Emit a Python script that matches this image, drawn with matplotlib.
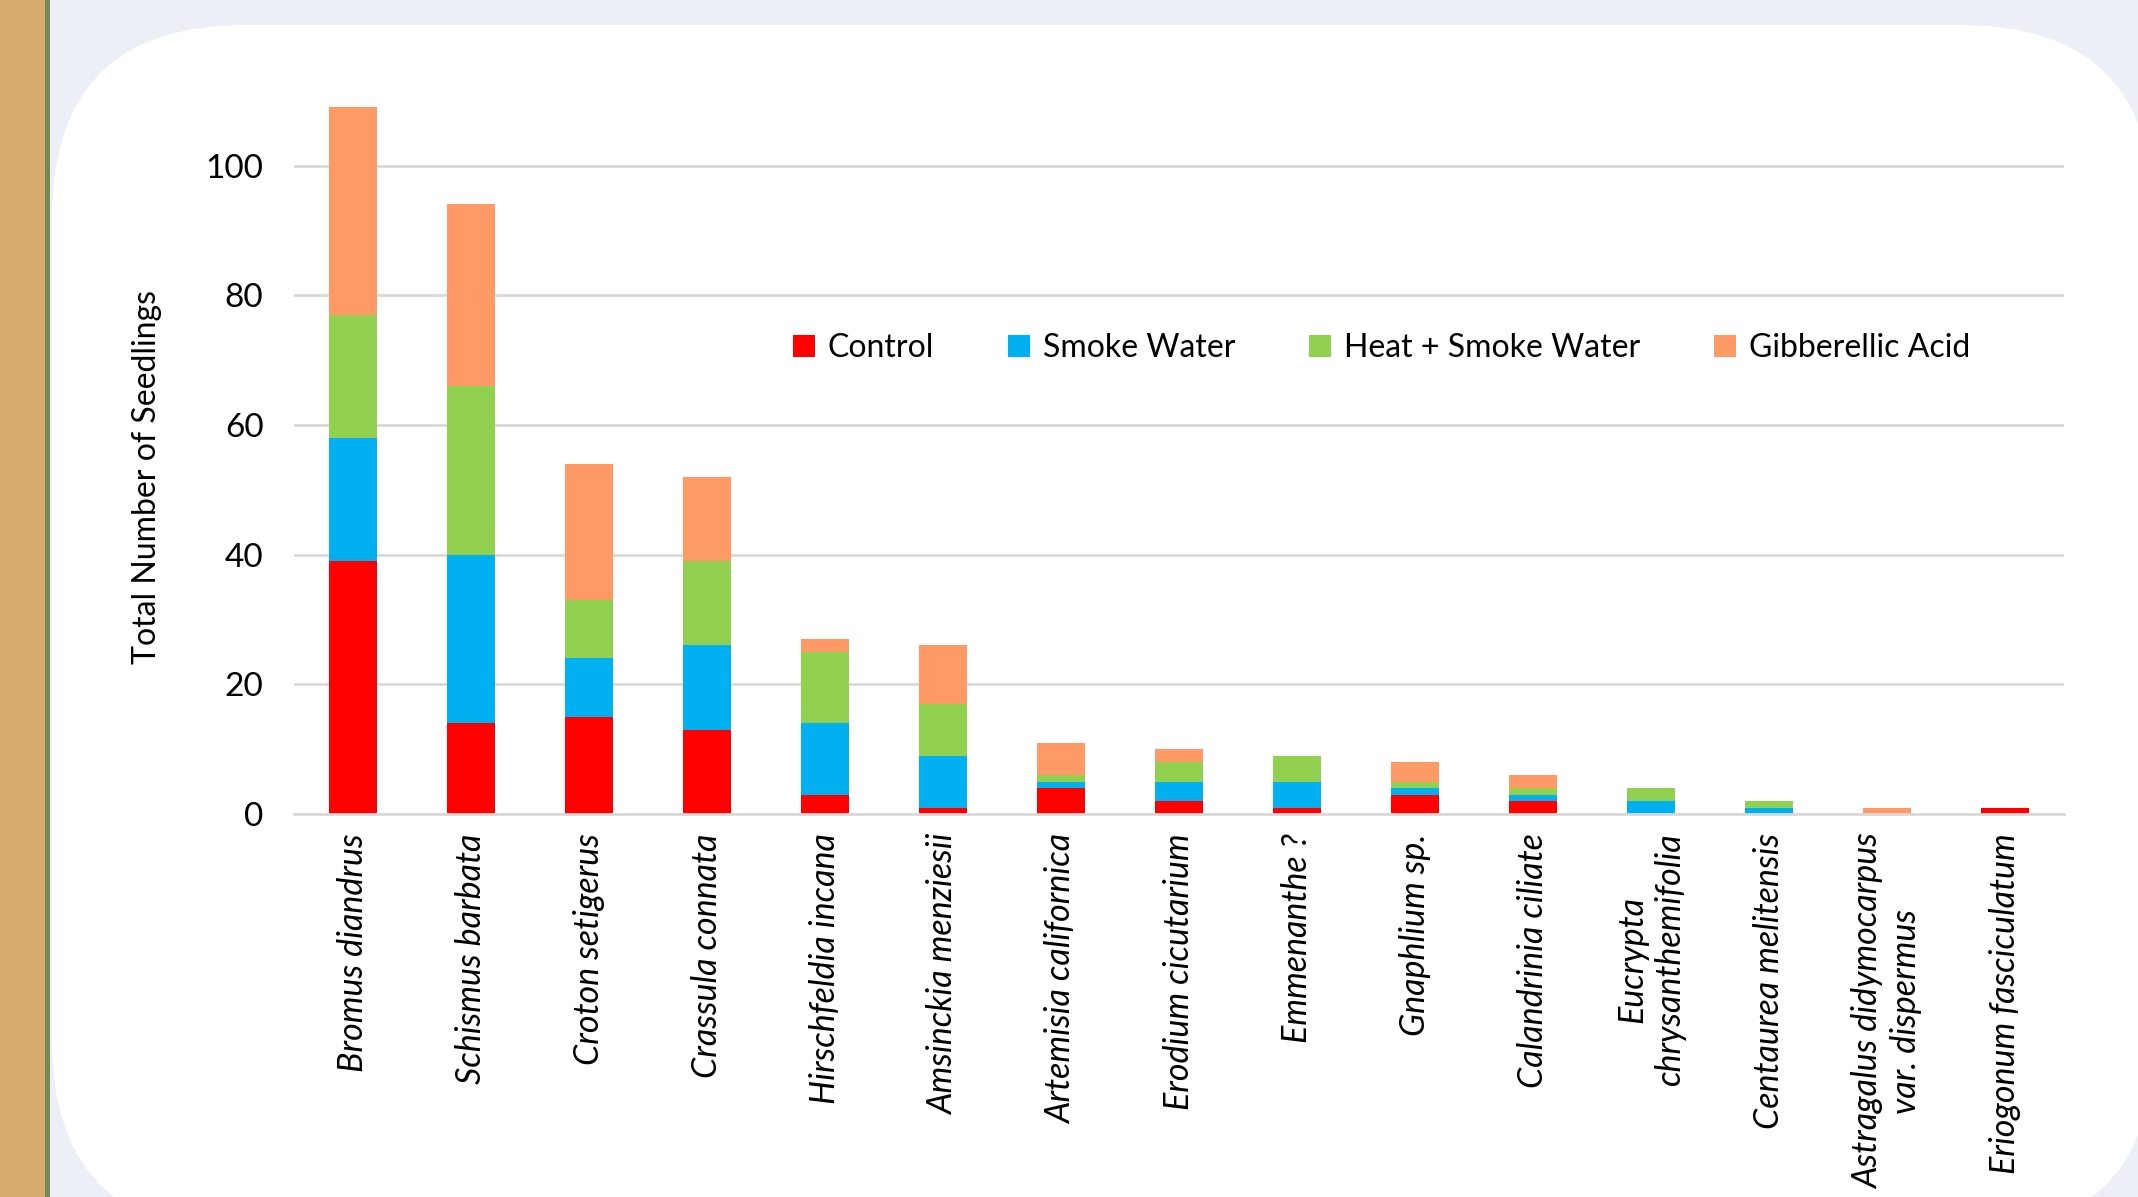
import matplotlib
matplotlib.use("Agg")
import matplotlib.pyplot as plt
import numpy as np
from matplotlib.patches import FancyBboxPatch, Rectangle, Patch

plt.rcParams['font.family'] = ['Lato', 'DejaVu Sans']

species = [
    "Bromus diandrus", "Schismus barbata", "Croton setigerus", "Crassula connata",
    "Hirschfeldia incana", "Amsinckia menziesii", "Artemisia californica",
    "Erodium cicutarium", "Emmenanthe ?", "Gnaphlium sp.", "Calandrinia ciliate",
    "Eucrypta\nchrysanthemifolia", "Centaurea melitensis",
    "Astragalus didymocarpus\nvar. dispermus", "Eriogonum fasciculatum",
]
control = [39, 14, 15, 13, 3, 1, 4, 2, 1, 3, 2, 0, 0, 0, 1]
smoke_water = [19, 26, 9, 13, 11, 8, 1, 3, 4, 1, 1, 2, 1, 0, 0]
heat_smoke = [19, 26, 9, 13, 11, 8, 1, 3, 4, 1, 1, 2, 1, 0, 0]
gibberellic = [32, 28, 21, 13, 2, 9, 5, 2, 0, 3, 2, 0, 0, 1, 0]

series_names = ["Control", "Smoke Water", "Heat + Smoke Water", "Gibberellic Acid"]
colors = ["#FF0000", "#00B0F0", "#92D050", "#FF9966"]

W, H = 2138, 1197
fig = plt.figure(figsize=(W / 100, H / 100), dpi=100)
fig.patch.set_facecolor("#ECEFF6")

# slide decoration: tan strip, green edge line, white rounded panel
bg = fig.add_axes([0, 0, 1, 1])
bg.set_xlim(0, W)
bg.set_ylim(0, H)
bg.axis("off")
bg.add_patch(Rectangle((0, 0), 45, H, color="#D6AB6E", lw=0))
bg.add_patch(Rectangle((45, 0), 5, H, color="#758A55", lw=0))
bg.add_patch(FancyBboxPatch((52 + 193, -36 + 193), 2154 - 52 - 386, 1172 + 36 - 386,
                            boxstyle="round,pad=193", fc="white", ec="none"))

ax = fig.add_axes([294 / W, 1 - 814 / H, (2064 - 294) / W, (814 - 35.8) / H])
ax.set_facecolor("none")
x = np.arange(len(species))
bottom = np.zeros(len(species))
for name, vals, c in zip(series_names, [control, smoke_water, heat_smoke, gibberellic], colors):
    ax.bar(x, vals, width=0.4, bottom=bottom, color=c, label=name, zorder=3)
    bottom += np.array(vals)

ax.set_xlim(-0.5, len(species) - 0.5)
ax.set_ylim(0, 120)
ax.set_yticks([0, 20, 40, 60, 80, 100])
ax.yaxis.grid(True, color="#D9D9D9", lw=2)
ax.set_axisbelow(True)
for s in ["top", "right", "left"]:
    ax.spines[s].set_visible(False)
ax.spines["bottom"].set_color("#D9D9D9")
ax.spines["bottom"].set_linewidth(2)
ax.spines["bottom"].set_zorder(4)
ax.tick_params(axis="y", length=0, pad=22, labelsize=24)
ax.tick_params(axis="x", length=0, pad=14)
ax.set_xticks(x)
ax.set_xticklabels(species, rotation=90, fontsize=24.5, style="italic",
                   ha="center", va="top", multialignment="center")

fig.text(147 / W, 1 - 477 / H, "Total Number of Seedlings", rotation=90,
         ha="center", va="center", fontsize=23)

handles = [Patch(facecolor=c, label=n) for n, c in zip(series_names, colors)]
ax.legend(handles=handles, ncol=4, loc="center", frameon=False, fontsize=23,
          bbox_to_anchor=((797 + 1966) / 2 / W, 1 - 348 / H),
          bbox_transform=fig.transFigure, handlelength=0.7, handleheight=0.7,
          handletextpad=0.4, columnspacing=2.3)

fig.savefig("out.png", dpi=100)
